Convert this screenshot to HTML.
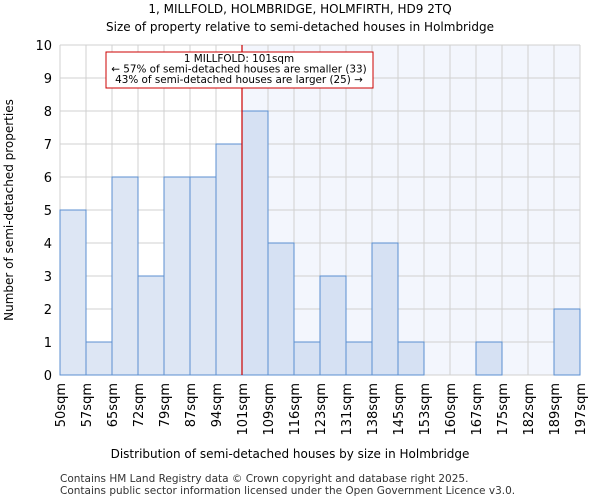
<!DOCTYPE html>
<html><head><meta charset="utf-8"><style>
body{margin:0;background:#fff;font-family:"DejaVu Sans","Liberation Sans",sans-serif}
</style></head><body>
<svg id="chart" width="600" height="500" xmlns="http://www.w3.org/2000/svg" font-family="DejaVu Sans, Liberation Sans, sans-serif">
<text x="300" y="13" font-size="12" text-anchor="middle">1, MILLFOLD, HOLMBRIDGE, HOLMFIRTH, HD9 2TQ</text>
<text x="300" y="31" font-size="12" text-anchor="middle">Size of property relative to semi-detached houses in Holmbridge</text>
<g id="plot"></g>
<text x="290" y="458" font-size="12" text-anchor="middle">Distribution of semi-detached houses by size in Holmbridge</text>
<text transform="translate(13,210) rotate(-90)" font-size="12" text-anchor="middle">Number of semi-detached properties</text>
<text x="60" y="482" font-size="10.5" fill="#333">Contains HM Land Registry data © Crown copyright and database right 2025.</text>
<text x="60" y="494" font-size="10.5" fill="#333">Contains public sector information licensed under the Open Government Licence v3.0.</text>
</svg>
<script>
const categories=["50sqm","57sqm","65sqm","72sqm","79sqm","87sqm","94sqm","101sqm","109sqm","116sqm","123sqm","131sqm","138sqm","145sqm","153sqm","160sqm","167sqm","175sqm","182sqm","189sqm","197sqm"];
const counts=[5,1,6,3,6,6,7,8,4,1,3,1,4,1,0,0,1,0,0,2];
const yTicks=[0,1,2,3,4,5,6,7,8,9,10];
const markerIndex=7;
const NS="http://www.w3.org/2000/svg";
const g=document.getElementById('plot');
const x0=60,x1=580,yTop=45,yBot=375,yMax=10;
const bw=(x1-x0)/counts.length;
const xs=i=>x0+i*bw;
const ys=v=>yBot-(v/yMax)*(yBot-yTop);
function mk(t,a){const e=document.createElementNS(NS,t);for(const k in a)e.setAttribute(k,a[k]);g.appendChild(e);return e;}
const mx=xs(markerIndex);
let bg=mk('rect',{x:mx,y:yTop,width:x1-mx,height:yBot-yTop,fill:'#f3f6fd'});


yTicks.forEach(t=>{
 let l=mk('line',{x1:x0,x2:x1,y1:ys(t),y2:ys(t),stroke:'#d0d0d0','stroke-width':1});
 
 
 let tx=mk('text',{x:x0-8,y:ys(t)+5,'font-size':13,'text-anchor':'end'});
 tx.textContent=t;
 
 
});
categories.forEach((c,i)=>{
 let l=mk('line',{x1:xs(i),x2:xs(i),y1:yTop,y2:yBot,stroke:'#d0d0d0','stroke-width':1});
 
 
 let tx=mk('text',{transform:`translate(${xs(i)+5},${yBot+8}) rotate(-90)`,'font-size':13,'text-anchor':'end'});
 tx.textContent=c;
 
 
});
counts.forEach((v,i)=>{
 if(v<=0)return;
 let r=mk('rect',{x:xs(i),y:ys(v),width:bw,height:ys(0)-ys(v),fill:i>=markerIndex?'#d6e1f3':'#dde6f4',stroke:'#5b8fd0','stroke-width':1});
 
 
});
let ml=mk('line',{x1:mx,x2:mx,y1:yTop,y2:yBot,stroke:'#cc0000','stroke-width':1.2});


let box=mk('rect',{x:106,y:52,width:267,height:36,fill:'#fff',stroke:'#cc0000','stroke-width':1});


["1 MILLFOLD: 101sqm","← 57% of semi-detached houses are smaller (33)","43% of semi-detached houses are larger (25) →"].forEach((s,k)=>{
 let t=mk('text',{x:239,y:62+k*10.5,'font-size':10.4,'text-anchor':'middle'});
 t.textContent=s;
 
 
});
</script>
</body></html>
